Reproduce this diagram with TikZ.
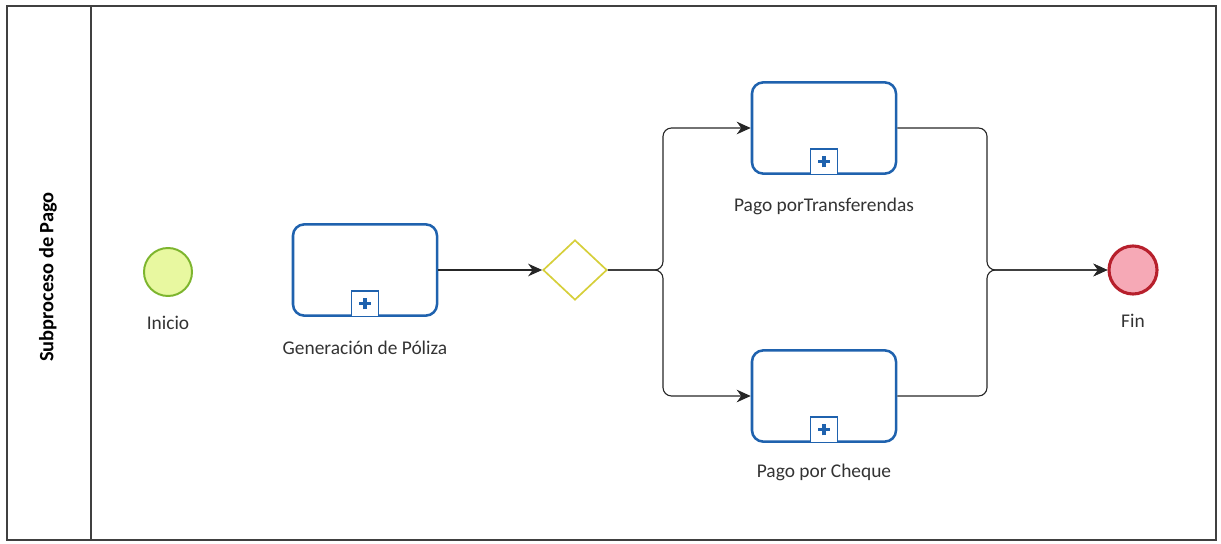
\documentclass[tikz,border=0pt]{standalone}
\usepackage{fontspec}
\setmainfont{Carlito}
\usepackage{tikz}
\usetikzlibrary{positioning,shapes.geometric,arrows.meta}
\definecolor{taskblue}{HTML}{1F62AE}
\definecolor{gwyellow}{HTML}{D6CF3A}
\definecolor{startfill}{HTML}{E8F8A0}
\definecolor{startline}{HTML}{7DB52E}
\definecolor{endfill}{HTML}{F6A9B6}
\definecolor{endline}{HTML}{B7202C}
\tikzset{
  task/.style={draw=taskblue,line width=1.8pt,rounded corners=8pt,fill=white,
    minimum width=3.6cm,minimum height=2.28cm},
  submark/.style={draw=taskblue,line width=1.1pt,fill=white,inner sep=0pt,
    minimum width=0.68cm,minimum height=0.64cm,
    path picture={\draw[taskblue,line width=2.2pt]
      ([xshift=-4pt]path picture bounding box.center) -- ([xshift=4pt]path picture bounding box.center)
      ([yshift=-4pt]path picture bounding box.center) -- ([yshift=4pt]path picture bounding box.center);}},
  startev/.style={circle,draw=startline,fill=startfill,line width=1.4pt,minimum size=1.2cm,inner sep=0pt},
  endev/.style={circle,draw=endline,fill=endfill,line width=2.2pt,minimum size=1.2cm,inner sep=0pt},
  gateway/.style={diamond,draw=gwyellow,line width=1.2pt,fill=white,minimum width=1.6cm,minimum height=1.5cm,inner sep=0pt},
  flow/.style={draw=black!85,line width=0.8pt,rounded corners=6pt},
  lbl/.style={font=\fontsize{13.8}{16}\selectfont,text=black!80}
}
\begin{document}
\begin{tikzpicture}[x=0.025cm,y=-0.025cm,>={Stealth[length=10pt,width=9pt]}]
  \useasboundingbox (0,0) rectangle (1221,544);
  % pool and lane
  \draw[line width=1pt,black!75] (7,6) rectangle (1216,540);
  \draw[line width=1pt,black!75] (91,6) -- (91,540);
  \node[rotate=90,font=\bfseries\fontsize{14.5}{16}\selectfont] (lane) at (48,277) {Subproceso de Pago};

  \node[startev] (inicio) at (168,272) {};
  \node[task] (gen) at (365,270) {};
  \node[gateway] (gw) at (575,270) {};
  \node[task] (transf) at (824,128) {};
  \node[task] (cheque) at (824,396) {};
  \node[endev] (fin) at (1133,270) {};

  \node[submark,above=-0.3pt of gen.south] (m1) {};
  \node[submark,above=-0.3pt of transf.south] (m2) {};
  \node[submark,above=-0.3pt of cheque.south] (m3) {};

  \node[lbl,below=0.35cm of inicio] (linicio) {Inicio};
  \node[lbl,below=0.48cm of gen] (lgen) {Generación de Póliza};
  \node[lbl,below=0.45cm of transf] (ltransf) {Pago porTransferendas};
  \node[lbl,below=0.41cm of cheque] (lcheque) {Pago por Cheque};
  \node[lbl,below=0.34cm of fin] (lfin) {Fin};

  \coordinate (split) at (663,270);
  \coordinate (join) at (987,270);

  \draw[flow,->] (gen.east) -- (gw.west);
  \draw[flow,->] (gw.east) -- (split) |- (transf.west);
  \draw[flow,->] (gw.east) -- (split) |- (cheque.west);
  \draw[flow,->] (transf.east) -| (join) -- (fin.west);
  \draw[flow,->] (cheque.east) -| (join) -- (fin.west);
\end{tikzpicture}
\end{document}
